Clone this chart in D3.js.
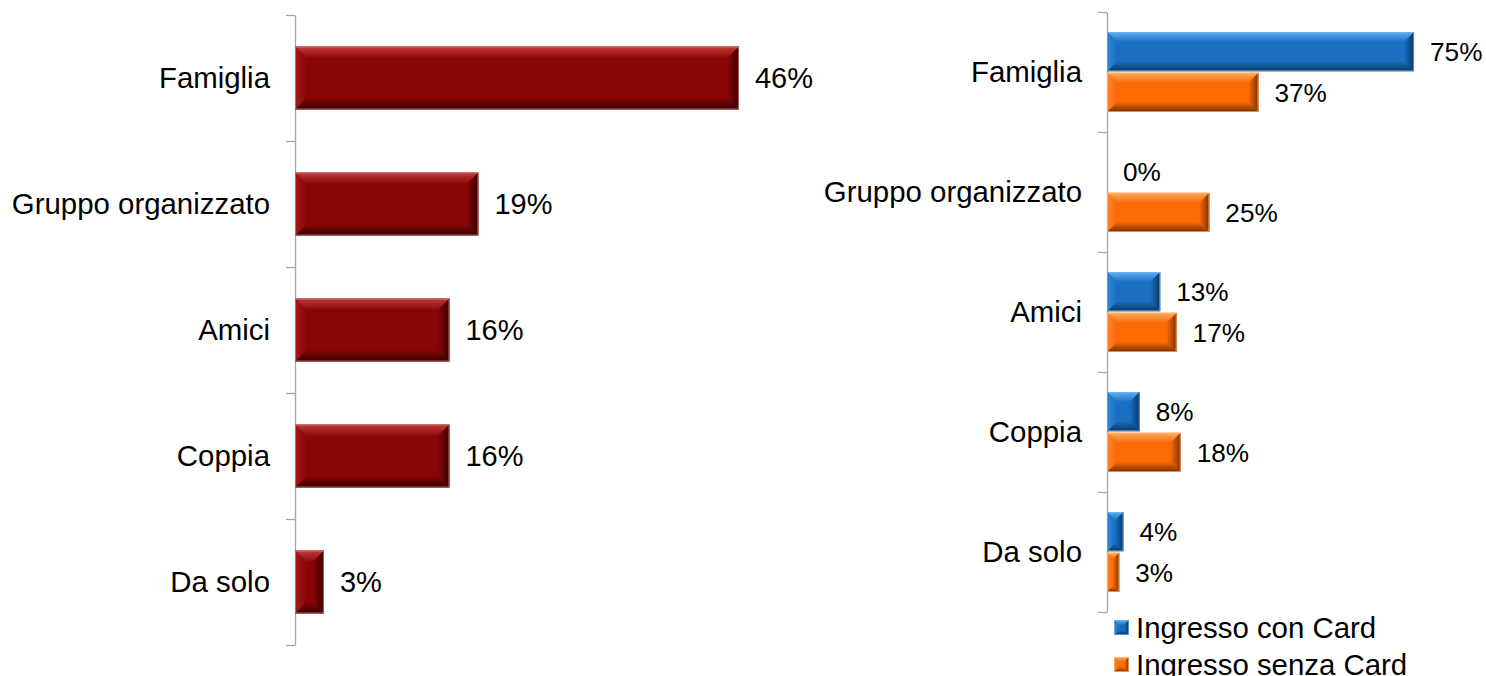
<!DOCTYPE html>
<html>
<head>
<meta charset="utf-8">
<script src="https://cdn.jsdelivr.net/npm/d3@7"></script>
<style>
  html, body { margin: 0; padding: 0; background: #fff; }
  svg { display: block; font-family: "Liberation Sans", Arial, sans-serif; }
</style>
</head>
<body>
<svg id="chart" width="1486" height="676"></svg>
<script>
// Companion types (share of visitors)
const categories = ["Famiglia", "Gruppo organizzato", "Amici", "Coppia", "Da solo"];
const totalShare = [46, 19, 16, 16, 3];
// Split by ticket type
const seriesNames = ["Ingresso con Card", "Ingresso senza Card"];
const withCard = [75, 0, 13, 8, 4];
const withoutCard = [37, 25, 17, 18, 3];

const svg = d3.select("#chart");
const defs = svg.append("defs");

// Bevel palettes: base, light edge, side, dark edge, outline
const palettes = {
  red:    { base: "#8a0606", light: "#c03a3a", side: "#a01c1c", dark: "#380000", edge: "#d08a8a" },
  blue:   { base: "#1a6fc2", light: "#5cb2f2", side: "#3088d8", dark: "#083763", edge: "#78b4e4" },
  orange: { base: "#fc6a04", light: "#ffae5c", side: "#ff8424", dark: "#7a3000", edge: "#ffb878" }
};

Object.entries(palettes).forEach(([key, p]) => {
  const mk = (id, x1, y1, x2, y2, c1, c2) => {
    const g = defs.append("linearGradient").attr("id", id)
      .attr("x1", x1).attr("y1", y1).attr("x2", x2).attr("y2", y2);
    g.append("stop").attr("offset", "0%").attr("stop-color", c1);
    g.append("stop").attr("offset", "100%").attr("stop-color", c2);
  };
  mk(key + "-top", 0, 0, 0, 1, p.light, p.base);
  mk(key + "-bot", 0, 0, 0, 1, p.base, p.dark);
  mk(key + "-left", 0, 0, 1, 0, p.side, p.base);
  mk(key + "-right", 0, 0, 1, 0, p.base, p.dark);
});

// Draws one bevelled bar from its scaled box
function bevelBar(g, x0, y0, w, h, key, bevel) {
  const p = palettes[key];
  const x1 = x0 + w, y1 = y0 + h;
  const b = Math.max(0, Math.min(bevel, w / 2, h / 2));
  const bar = g.append("g");
  bar.append("rect").attr("x", x0).attr("y", y0).attr("width", w).attr("height", h)
    .attr("fill", p.base);
  const poly = (pts, fill) => bar.append("polygon")
    .attr("points", pts.map(d => d.join(",")).join(" ")).attr("fill", fill);
  poly([[x0, y0], [x1, y0], [x1 - b, y0 + b], [x0 + b, y0 + b]], `url(#${key}-top)`);
  poly([[x0, y1], [x1, y1], [x1 - b, y1 - b], [x0 + b, y1 - b]], `url(#${key}-bot)`);
  poly([[x0, y0], [x0 + b, y0 + b], [x0 + b, y1 - b], [x0, y1]], `url(#${key}-left)`);
  poly([[x1, y0], [x1 - b, y0 + b], [x1 - b, y1 - b], [x1, y1]], `url(#${key}-right)`);
  bar.append("rect").attr("x", x0 + 0.5).attr("y", y0 + 0.5)
    .attr("width", Math.max(0, w - 1)).attr("height", Math.max(0, h - 1))
    .attr("fill", "none").attr("stroke", p.edge).attr("stroke-width", 1).attr("stroke-opacity", 0.7);
}

function drawAxis(g, x, range) {
  const boundary = d3.scaleLinear().domain([0, categories.length]).range(range);
  const axis = d3.axisLeft(boundary)
    .tickValues(d3.range(categories.length + 1))
    .tickSize(9).tickSizeOuter(0).tickFormat("");
  const ag = g.append("g").attr("transform", `translate(${x},0)`).call(axis);
  ag.selectAll("path, line").attr("stroke", "#a6a6a6").attr("stroke-width", 1.3);
}

const catFont = 29.4;

/* ---------- Left panel: overall share ---------- */
const left = svg.append("g");
const xL = d3.scaleLinear().domain([0, 50]).range([295, 295 + 482.6]);
const yL = d3.scaleBand().domain(categories).range([15, 645])
  .paddingInner(0.5).paddingOuter(0.25);

drawAxis(left, xL(0), [15, 645]);

categories.forEach((c, i) => {
  const v = totalShare[i];
  bevelBar(left, xL(0), yL(c), xL(v) - xL(0), yL.bandwidth(), "red", 12);
  left.append("text")
    .attr("x", xL(v) + 16).attr("y", yL(c) + yL.bandwidth() / 2)
    .attr("dy", "0.35em").attr("font-size", 29).attr("fill", "#000")
    .text(v + "%");
  left.append("text")
    .attr("x", xL(0) - 25).attr("y", yL(c) + yL.bandwidth() / 2)
    .attr("dy", "0.35em").attr("text-anchor", "end").attr("font-size", catFont).attr("fill", "#000")
    .text(c);
});

/* ---------- Right panel: with / without card ---------- */
const right = svg.append("g");
const xR = d3.scaleLinear().domain([0, 80]).range([1107, 1107 + 327.5]);
const yR = d3.scaleBand().domain(categories).range([12, 612])
  .paddingInner(1 / 3).paddingOuter(1 / 6);
const ySub = d3.scaleBand().domain(seriesNames).range([0, yR.bandwidth()]).paddingInner(0.04);
const seriesValues = [withCard, withoutCard];
const seriesKeys = ["blue", "orange"];

drawAxis(right, xR(0), [12, 612]);

categories.forEach((c, i) => {
  seriesNames.forEach((s, j) => {
    const v = seriesValues[j][i];
    const y0 = yR(c) + ySub(s);
    if (v > 0) bevelBar(right, xR(0), y0, xR(v) - xR(0), ySub.bandwidth(), seriesKeys[j], 10);
    right.append("text")
      .attr("x", xR(v) + 16).attr("y", y0 + ySub.bandwidth() / 2)
      .attr("dy", "0.35em").attr("font-size", 26.2).attr("fill", "#000")
      .text(v + "%");
  });
  right.append("text")
    .attr("x", xR(0) - 25).attr("y", yR(c) + yR.bandwidth() / 2)
    .attr("dy", "0.35em").attr("text-anchor", "end").attr("font-size", catFont).attr("fill", "#000")
    .text(c);
});

/* ---------- Legend ---------- */
const legend = svg.append("g").attr("transform", "translate(1114,620)");
seriesNames.forEach((s, j) => {
  const row = legend.append("g").attr("transform", `translate(0,${j * 37})`);
  bevelBar(row, 0, 0, 15, 15, seriesKeys[j], 5);
  row.append("text").attr("x", 22).attr("y", 7.5).attr("dy", "0.35em")
    .attr("font-size", catFont).attr("fill", "#000").text(s);
});
</script>
</body>
</html>
